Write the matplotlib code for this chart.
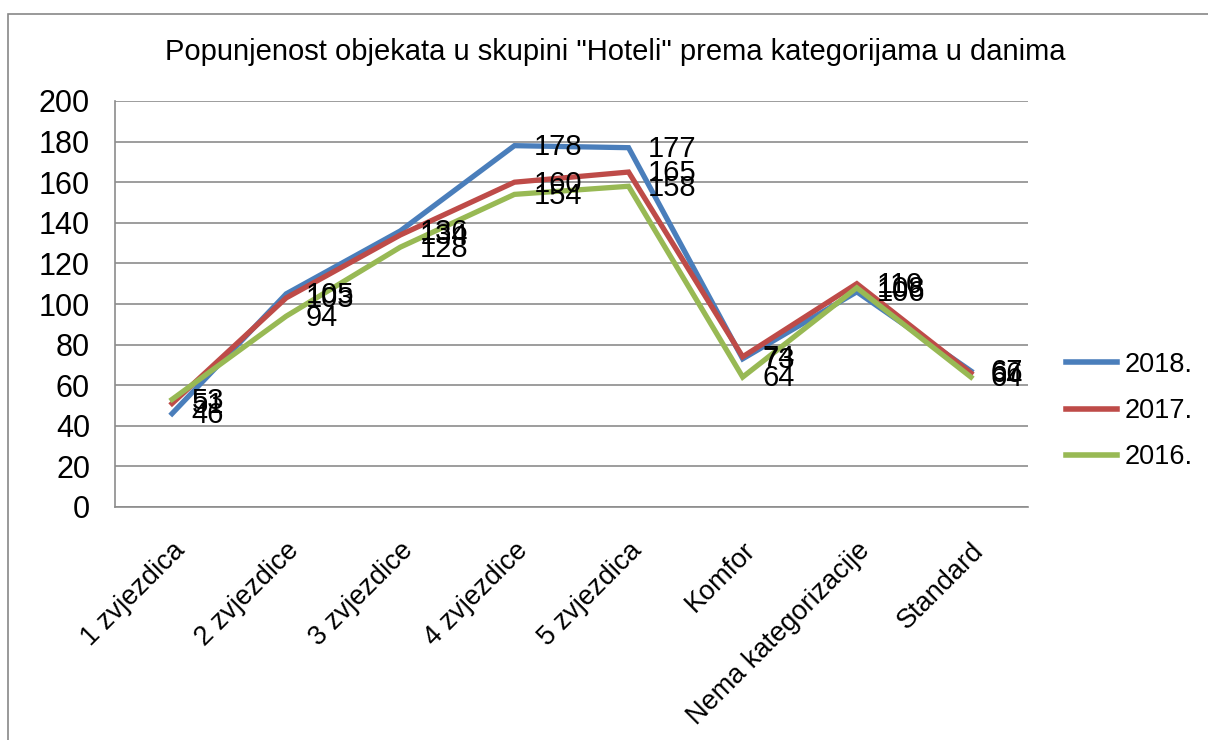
import matplotlib.pyplot as plt
from matplotlib.patches import Rectangle

plt.rcParams['font.family'] = ['Liberation Sans', 'DejaVu Sans']

kategorije = ["1 zvjezdica", "2 zvjezdice", "3 zvjezdice", "4 zvjezdice",
              "5 zvjezdica", "Komfor", "Nema kategorizacije", "Standard"]
god_2018 = [46, 105, 136, 178, 177, 73, 106, 67]
god_2017 = [51, 103, 134, 160, 165, 74, 110, 66]
god_2016 = [53, 94, 128, 154, 158, 64, 108, 64]

serije = [("2018.", god_2018, "#4A7EBB"),
          ("2017.", god_2017, "#BE4B48"),
          ("2016.", god_2016, "#98B954")]

fig = plt.figure(figsize=(12.08, 7.40), dpi=100)
ax = fig.add_axes([115 / 1208, 1 - 507 / 740, 913 / 1208, 406 / 740])

# okvir grafikona
fig.patches.append(Rectangle((8 / 1208, -0.1), 1.1, (740 - 14) / 740 + 0.1,
                             transform=fig.transFigure, fill=False,
                             edgecolor="#888888", linewidth=1.2))

x = list(range(len(kategorije)))
for naziv, vrijednosti, boja in serije:
    ax.plot(x, vrijednosti, color=boja, linewidth=3.8, label=naziv,
            solid_joinstyle="miter")
    for xi, v in zip(x, vrijednosti):
        ax.annotate(str(v), (xi, v), xytext=(14, -1), textcoords="offset points",
                    ha="left", va="center", fontsize=21, color="black")

ax.set_xlim(-0.5, len(kategorije) - 0.5)
ax.set_ylim(0, 200)
ax.set_yticks(range(0, 201, 20))
ax.yaxis.grid(True, color="#8c8c8c", linewidth=1.2)
ax.set_axisbelow(True)
ax.tick_params(axis="y", labelsize=22, length=0, pad=18)
ax.tick_params(axis="x", labelsize=19.5, length=0, pad=22)
ax.set_xticks(x)
ax.set_xticklabels(kategorije, rotation=45, ha="right", va="top",
                   rotation_mode="anchor")
for s in ["top", "right"]:
    ax.spines[s].set_visible(False)
ax.spines["left"].set_color("#8c8c8c")
ax.spines["bottom"].set_color("#8c8c8c")
ax.spines["left"].set_linewidth(1.2)
ax.spines["bottom"].set_linewidth(1.2)

fig.text(0.5 * (163 + 1068) / 1208, 1 - 52 / 740,
         'Popunjenost objekata u skupini "Hoteli" prema kategorijama u danima',
         ha="center", va="center", fontsize=21)

leg = fig.legend(loc="center left", bbox_to_anchor=(1066 / 1208, 1 - 411 / 740),
                 frameon=False, fontsize=19.5, handlelength=1.9,
                 handletextpad=0.25, labelspacing=0.75, borderpad=0,
                 borderaxespad=0)
for h in leg.legend_handles:
    h.set_linewidth(4)

fig.savefig("out.png", dpi=100)
